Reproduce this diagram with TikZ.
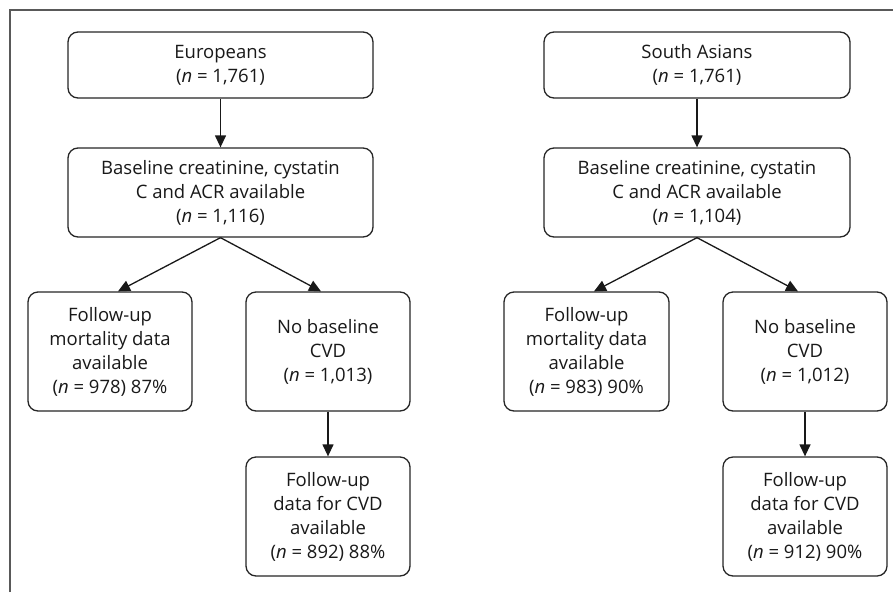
\documentclass[tikz,border=0pt]{standalone}
\usepackage{fontspec}
\setmainfont{Open Sans}
\usetikzlibrary{arrows.meta}
\begin{document}
\begin{tikzpicture}[x=1pt,y=-1pt,
  box/.style={draw=black!85, line width=1.3pt, rounded corners=10pt, fill=white,
    align=center, inner sep=0pt, text=black!90, font=\fontsize{18.5}{24}\selectfont},
  conn/.style={draw=black!90, line width=1.3pt, -{Triangle[width=11pt,length=12pt]}},
  frame/.style={draw=black!65, line width=1.8pt}]
\useasboundingbox (0,0) rectangle (893,592);
\draw[frame] (10,592) -- (10,10) -- (893,10);
% Europeans
\node[box, minimum width=305pt, minimum height=66pt] (eu) at (220.5,65) {Europeans\\(\textit{n} = 1,761)};
\node[box, minimum width=305pt, minimum height=89pt] (eub) at (220.5,192.5) {Baseline creatinine, cystatin\\C and ACR available\\(\textit{n} = 1,116)};
\node[box, minimum width=164pt, minimum height=119pt] (eum) at (110,351.5) {Follow-up\\mortality data\\available\\(\textit{n} = 978) 87\%};
\node[box, minimum width=164pt, minimum height=119pt] (eun) at (328,351.5) {No baseline\\CVD\\(\textit{n} = 1,013)};
\node[box, minimum width=164pt, minimum height=119pt] (euf) at (328,516.5) {Follow-up\\data for CVD\\available\\(\textit{n} = 892) 88\%};
% South Asians
\node[box, minimum width=306pt, minimum height=66pt] (sa) at (697,65) {South Asians\\(\textit{n} = 1,761)};
\node[box, minimum width=306pt, minimum height=89pt] (sab) at (697,192.5) {Baseline creatinine, cystatin\\C and ACR available\\(\textit{n} = 1,104)};
\node[box, minimum width=165pt, minimum height=119pt] (sam) at (586.5,351.5) {Follow-up\\mortality data\\available\\(\textit{n} = 983) 90\%};
\node[box, minimum width=164pt, minimum height=119pt] (san) at (805,351.5) {No baseline\\CVD\\(\textit{n} = 1,012)};
\node[box, minimum width=164pt, minimum height=119pt] (saf) at (805,516.5) {Follow-up\\data for CVD\\available\\(\textit{n} = 912) 90\%};
% connectors
\draw[conn] (eu) -- (eub);
\draw[conn] (eub.south) -- ([xshift=8pt]eum.north);
\draw[conn] (eub.south) -- ([xshift=-7pt]eun.north);
\draw[conn] (eun) -- (euf);
\draw[conn] (sa) -- (sab);
\draw[conn] (sab.south) -- ([xshift=7.5pt]sam.north);
\draw[conn] (sab.south) -- ([xshift=-7pt]san.north);
\draw[conn] (san) -- (saf);
\end{tikzpicture}
\end{document}
